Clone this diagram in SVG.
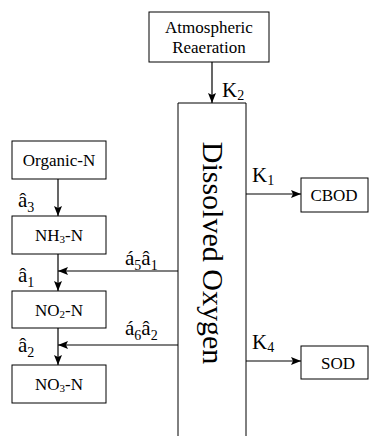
<svg xmlns="http://www.w3.org/2000/svg" width="370" height="436" viewBox="0 0 370 436">
<defs>
<style>
text{font-family:"Liberation Serif","Times New Roman","DejaVu Serif",serif;fill:#000}
.box{fill:#fff;stroke:#000;stroke-width:1}
.edge{fill:none;stroke:#000;stroke-width:1}
.ln{fill:none;stroke:#000;stroke-width:1.2;marker-end:url(#ah)}
.t{font-size:17px;text-anchor:middle}
.lb{font-size:21px}
.sb{font-size:14px}
.ss{font-size:11px}
</style>
<marker id="ah" viewBox="0 0 10 8" refX="10" refY="4" markerWidth="10" markerHeight="8" markerUnits="userSpaceOnUse" orient="auto">
<path d="M0,0 L10,4 L0,8 L2,4 z" fill="#000"/>
</marker>
</defs>
<rect width="370" height="436" fill="#fff"/>
<g id="connectors">
<line class="ln" x1="212" y1="62" x2="212" y2="103"/>
<line class="ln" x1="58" y1="179" x2="58" y2="216"/>
<line class="ln" x1="58" y1="254" x2="58" y2="291"/>
<line class="ln" x1="58" y1="328" x2="58" y2="365"/>
<line class="ln" x1="178" y1="271" x2="58" y2="271"/>
<line class="ln" x1="178" y1="345" x2="58" y2="345"/>
<line class="ln" x1="246" y1="194" x2="301" y2="194"/>
<line class="ln" x1="246" y1="361" x2="301" y2="361"/>
<text class="lb" x="222" y="97">K<tspan class="sb" dy="3">2</tspan></text>
<text class="lb" x="252" y="182">K<tspan class="sb" dy="3">1</tspan></text>
<text class="lb" x="252" y="349">K<tspan class="sb" dy="3">4</tspan></text>
<text class="lb" x="18" y="207">â<tspan class="sb" dy="5">3</tspan></text>
<text class="lb" x="18" y="282">â<tspan class="sb" dy="5">1</tspan></text>
<text class="lb" x="18" y="352">â<tspan class="sb" dy="5">2</tspan></text>
<text class="lb" x="125" y="265">á<tspan class="sb" dy="5">5</tspan><tspan dy="-5">â</tspan><tspan class="sb" dy="5">1</tspan></text>
<text class="lb" x="125" y="335">á<tspan class="sb" dy="5">6</tspan><tspan dy="-5">â</tspan><tspan class="sb" dy="5">2</tspan></text>
</g>
<g id="atmospheric">
<rect class="box" x="149" y="12" width="120" height="50"/>
<text class="t" x="209" y="33">Atmospheric</text>
<text class="t" x="209" y="53">Reaeration</text>
</g>
<g id="dissolved-oxygen">
<polyline class="edge" points="178,436 178,103 246,103 246,436"/>
<text x="0" y="0" font-size="30" text-anchor="middle" transform="translate(203,253) rotate(90)">Dissolved Oxygen</text>
</g>
<g id="organic-n">
<rect class="box" x="12" y="141" width="94" height="38"/>
<text class="t" x="59" y="166">Organic-N</text>
</g>
<g id="nh3-n">
<rect class="box" x="12" y="216" width="94" height="38"/>
<text class="t" x="59" y="241">NH<tspan class="ss" dy="2">3</tspan><tspan dy="-2">-N</tspan></text>
</g>
<g id="no2-n">
<rect class="box" x="12" y="291" width="94" height="37"/>
<text class="t" x="59" y="316">NO<tspan class="ss" dy="2">2</tspan><tspan dy="-2">-N</tspan></text>
</g>
<g id="no3-n">
<rect class="box" x="12" y="365" width="94" height="38"/>
<text class="t" x="59" y="390">NO<tspan class="ss" dy="2">3</tspan><tspan dy="-2">-N</tspan></text>
</g>
<g id="cbod">
<rect class="box" x="301" y="178" width="67" height="34"/>
<text class="t" x="334" y="201">CBOD</text>
</g>
<g id="sod">
<rect class="box" x="301" y="346" width="67" height="33"/>
<text class="t" x="338" y="369">SOD</text>
</g>
</svg>
